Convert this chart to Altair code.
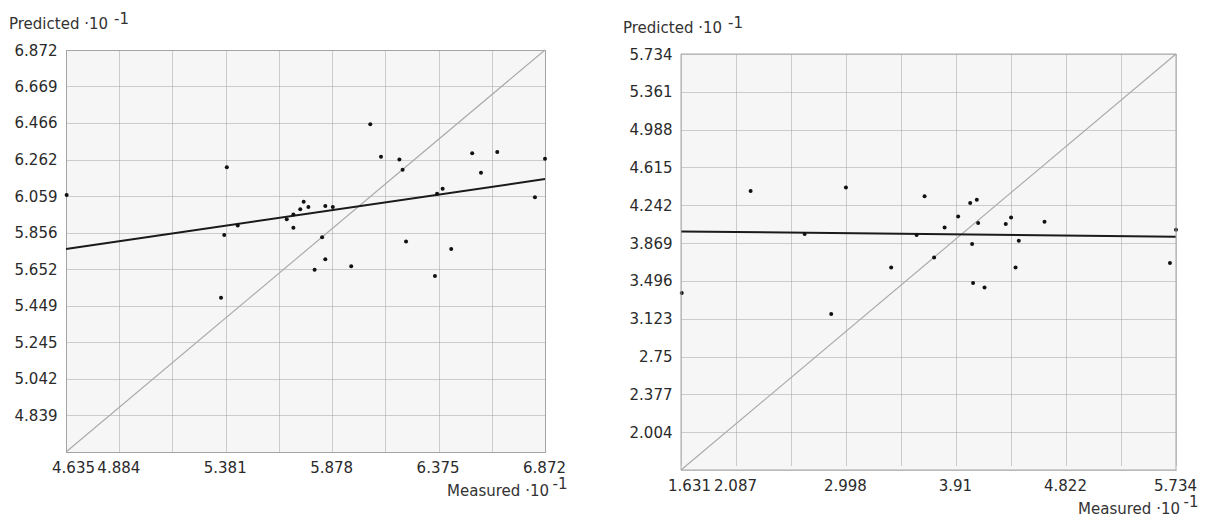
import altair as alt
import pandas as pd

# ---------------- data: left panel ----------------
left_x = [4.638, 5.386, 5.374, 5.437, 5.359, 5.666, 5.697, 5.697, 5.729, 5.745,
          5.767, 5.846, 5.881, 5.831, 5.846, 5.796, 5.967, 6.056, 6.106, 6.192,
          6.207, 6.223, 6.358, 6.368, 6.394, 6.434, 6.532, 6.573, 6.649, 6.825, 6.872]
left_y = [6.065, 6.219, 5.843, 5.896, 5.494, 5.930, 5.957, 5.883, 5.986, 6.028,
          5.998, 6.004, 5.998, 5.830, 5.707, 5.649, 5.668, 6.459, 6.278, 6.262,
          6.206, 5.807, 5.614, 6.072, 6.100, 5.765, 6.297, 6.189, 6.304, 6.052, 6.267]
left_fit_x = [4.635, 6.872]
left_fit_y = [5.765, 6.154]
left_xgrid = [4.635, 4.884, 5.132, 5.381, 5.629, 5.878, 6.126, 6.375, 6.623, 6.872]
left_xlabels = [4.635, 4.884, 5.381, 5.878, 6.375, 6.872]
left_ygrid = [4.635, 4.839, 5.042, 5.245, 5.449, 5.652, 5.856, 6.059, 6.262, 6.466, 6.669, 6.872]
left_ylabels = [4.839, 5.042, 5.245, 5.449, 5.652, 5.856, 6.059, 6.262, 6.466, 6.669, 6.872]

# ---------------- data: right panel ----------------
right_x = [1.637, 2.208, 2.656, 2.876, 2.998, 3.373, 3.584, 3.650, 3.729, 3.816,
           3.928, 4.028, 4.044, 4.052, 4.083, 4.094, 4.147, 4.323, 4.367, 4.404,
           4.431, 4.644, 5.684, 5.734]
right_y = [3.377, 4.383, 3.959, 3.170, 4.418, 3.629, 3.949, 4.330, 3.728, 4.024,
           4.132, 4.264, 3.860, 3.475, 4.297, 4.067, 3.432, 4.057, 4.122, 3.629,
           3.893, 4.080, 3.673, 4.001]
right_fit_x = [1.631, 5.734]
right_fit_y = [3.984, 3.932]
right_xgrid = [1.631, 2.087, 2.543, 2.998, 3.454, 3.91, 4.366, 4.822, 5.278, 5.734]
right_xlabels = [1.631, 2.087, 2.998, 3.91, 4.822, 5.734]
right_ygrid = [1.631, 2.004, 2.377, 2.75, 3.123, 3.496, 3.869, 4.242, 4.615, 4.988, 5.361, 5.734]
right_ylabels = [2.004, 2.377, 2.75, 3.123, 3.496, 3.869, 4.242, 4.615, 4.988, 5.361, 5.734]

y_title = "Predicted \u00b710"
x_title = "Measured \u00b710"
exp_text = "-1"

FONT = "DejaVu Sans"
FS = 15
LABEL_COLOR = "#2a2a2a"
GRID_COLOR = "#a0a0a0"
BORDER = "#a8a8a8"
BG = "#f6f6f6"


def label_expr(vals):
    arr = ",".join(repr(v) for v in vals)
    return f"indexof([{arr}], datum.value) >= 0 ? format(datum.value, '.4~g') : ''"


def panel(xs, ys, fx, fy, xgrid, xlabels, ygrid, ylabels, W, H, left_pad, first_off, shift):
    # shift: the plot area starts this many pixels below the top of its cell
    lo, hi = xgrid[0], xgrid[-1]
    GH = H + shift
    xscale = alt.Scale(domain=[lo, hi], nice=False, zero=False)
    yscale = alt.Scale(domain=[ygrid[0], ygrid[-1]], nice=False, zero=False, range=[GH, shift])
    xaxis = alt.Axis(values=xgrid, labelExpr=label_expr(xlabels), title=None, tickCount=40,
                     domain=False, ticks=False, tickSize=0, labelPadding=8, labelFlush=False,
                     grid=True, gridColor=GRID_COLOR, gridDash=[1, 1], gridWidth=1,
                     labelFont=FONT, labelFontSize=FS, labelColor=LABEL_COLOR,
                     labelOverlap=False,
                     labelOffset={"condition": {"test": f"datum.value == {lo}", "value": first_off},
                                  "value": -1})
    yaxis = alt.Axis(values=ygrid, labelExpr=label_expr(ylabels), title=None, tickCount=40,
                     domain=False, ticks=False, tickSize=0, labelPadding=9, labelFlush=False,
                     grid=True, gridColor=GRID_COLOR, gridDash=[1, 1], gridWidth=1,
                     labelFont=FONT, labelFontSize=FS, labelColor=LABEL_COLOR,
                     labelOverlap=False)

    diag_df = pd.DataFrame({"x": [lo, hi], "y": [ygrid[0], ygrid[-1]]})
    fit_df = pd.DataFrame({"x": fx, "y": fy})
    pts_df = pd.DataFrame({"x": xs, "y": ys})
    one = pd.DataFrame({"t": [0]})

    diag = alt.Chart(diag_df).mark_line(color="#ababab", strokeWidth=1.2).encode(
        x=alt.X("x:Q", scale=xscale, axis=xaxis),
        y=alt.Y("y:Q", scale=yscale, axis=yaxis),
    )
    fit = alt.Chart(fit_df).mark_line(color="#1a1a1a", strokeWidth=2).encode(
        x=alt.X("x:Q", scale=xscale),
        y=alt.Y("y:Q", scale=yscale),
    )
    pts = alt.Chart(pts_df).mark_circle(color="#111111", size=16, opacity=1).encode(
        x=alt.X("x:Q", scale=xscale),
        y=alt.Y("y:Q", scale=yscale),
    )
    layers = [diag]
    if shift > 0:
        cover = alt.Chart(one).mark_rect(color="#ffffff").encode(
            x=alt.value(-1), x2=alt.value(W + 1), y=alt.value(-1), y2=alt.value(shift))
        layers.append(cover)
    layers += [fit, pts]

    if shift > 0:
        border = alt.Chart(one).mark_rect(filled=False, stroke=BORDER, strokeWidth=1).encode(
            x=alt.value(0), x2=alt.value(W), y=alt.value(shift), y2=alt.value(GH))
        layers.append(border)

    tx = dict(font=FONT, fontSize=FS, color="#333333", baseline="alphabetic")
    ytit = alt.Chart(pd.DataFrame({"t": [y_title]})).mark_text(align="left", **tx).encode(
        text="t:N", x=alt.value(-left_pad), y=alt.value(shift - 21.5))
    yexp = alt.Chart(pd.DataFrame({"t": [exp_text]})).mark_text(align="left", **tx).encode(
        text="t:N", x=alt.value(-left_pad + 105), y=alt.value(shift - 26.5))
    xtit = alt.Chart(pd.DataFrame({"t": [x_title]})).mark_text(align="right", **tx).encode(
        text="t:N", x=alt.value(W + 4), y=alt.value(GH + 43.5))
    xexp = alt.Chart(pd.DataFrame({"t": [exp_text]})).mark_text(align="right", **tx).encode(
        text="t:N", x=alt.value(W + 22.5), y=alt.value(GH + 36.5))
    spacer = alt.Chart(one).mark_rule(color="#ffffff", strokeWidth=1).encode(
        x=alt.value(-left_pad), x2=alt.value(W + 25), y=alt.value(-41))
    layers += [ytit, yexp, xtit, xexp, spacer]

    view_stroke = "transparent" if shift > 0 else BORDER
    return alt.layer(*layers).properties(
        width=W, height=GH,
        view=alt.ViewBackground(stroke=view_stroke, strokeWidth=1, fill=BG),
    )


left = panel(left_x, left_y, left_fit_x, left_fit_y, left_xgrid, left_xlabels,
             left_ygrid, left_ylabels, 479, 402, 57, 7, 0)
right = panel(right_x, right_y, right_fit_x, right_fit_y, right_xgrid, right_xlabels,
              right_ygrid, right_ylabels, 495, 416, 58, 8, 4)

chart = alt.hconcat(left, right, spacing=51).properties(
    padding=0
).configure_view(
    stroke=BORDER, strokeWidth=1, fill=BG
).configure(font=FONT)

chart.save("out.html", embed_options={"renderer": "svg", "actions": False})
